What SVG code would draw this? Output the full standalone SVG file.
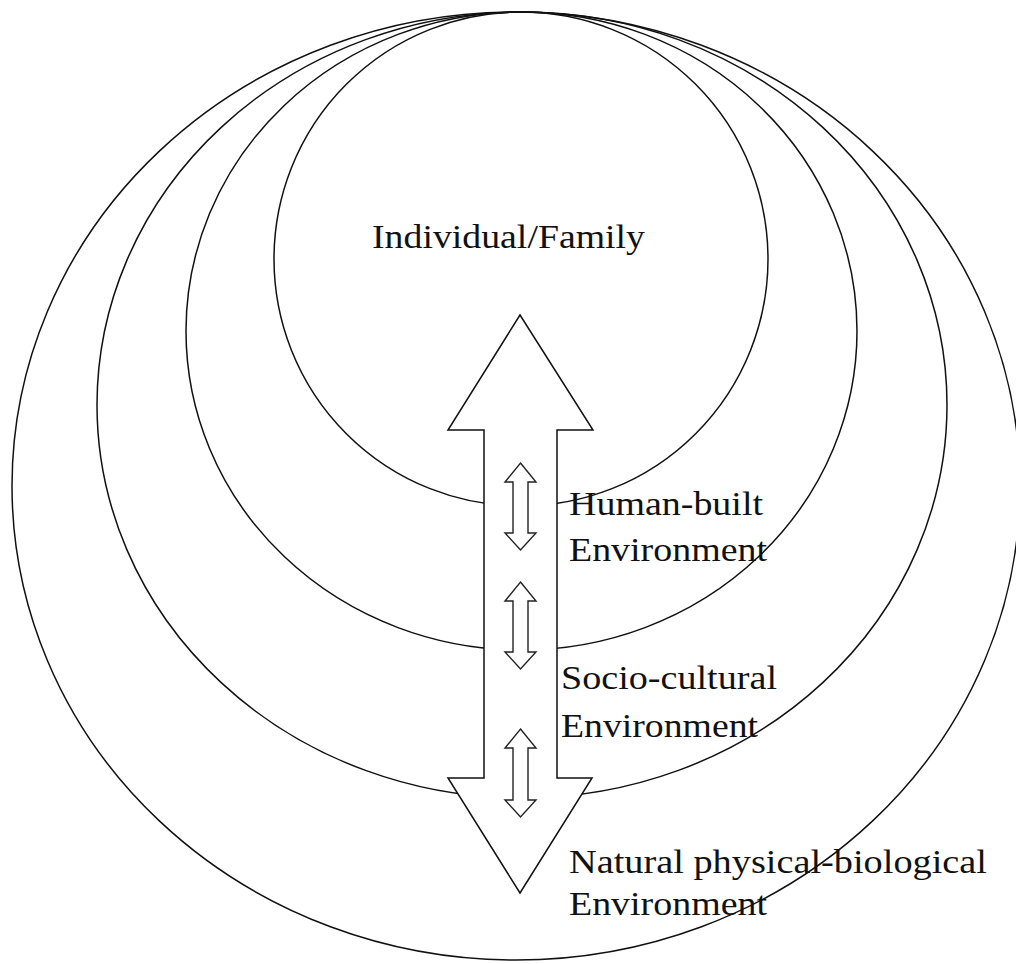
<svg xmlns="http://www.w3.org/2000/svg" width="1016" height="964" viewBox="0 0 1016 964">
  <style>
    .ring { fill: none; stroke: #111; stroke-width: 1.5; }
    .big { fill: #fff; stroke: #111; stroke-width: 1.5; stroke-linejoin: miter; }
    .small { fill: #fff; stroke: #222; stroke-width: 1.4; }
    .lbl { font-family: "Liberation Serif", "Times New Roman", serif; font-size: 34px; fill: #111; }
  </style>
  <rect x="0" y="0" width="1016" height="964" fill="#fff"/>
  <g id="natural">
    <ellipse class="ring" cx="516" cy="486" rx="504" ry="474"/>
  </g>
  <g id="sociocultural">
    <ellipse class="ring" cx="522" cy="405" rx="425" ry="393"/>
  </g>
  <g id="humanbuilt">
    <ellipse class="ring" cx="521.5" cy="331" rx="335.5" ry="319"/>
  </g>
  <g id="individual">
    <ellipse class="ring" cx="521" cy="259" rx="247" ry="247"/>
    <text class="lbl" x="372" y="248" textLength="273" lengthAdjust="spacingAndGlyphs">Individual/Family</text>
  </g>
  <g id="connectors">
    <polygon class="big" points="520,315 593,430 557,430 557,778 592,778 520,893 448,778 484,778 484,430 448,430"/>
    <polygon class="small" points="520.5,463 536,482 528,482 528,533 536,533 520.5,550 505,533 513,533 513,482 505,482"/>
    <polygon class="small" points="520.5,582 536,601 528,601 528,652 536,652 520.5,669 505,652 513,652 513,601 505,601"/>
    <polygon class="small" points="520.5,729 536,748 528,748 528,800 536,800 520.5,817 505,800 513,800 513,748 505,748"/>
  </g>
  <g id="label-humanbuilt">
    <text class="lbl" x="569" y="515" textLength="194" lengthAdjust="spacingAndGlyphs">Human-built</text>
    <text class="lbl" x="569" y="561" textLength="198" lengthAdjust="spacingAndGlyphs">Environment</text>
  </g>
  <g id="label-sociocultural">
    <text class="lbl" x="561" y="689" textLength="216" lengthAdjust="spacingAndGlyphs">Socio-cultural</text>
    <text class="lbl" x="561" y="737" textLength="197" lengthAdjust="spacingAndGlyphs">Environment</text>
  </g>
  <g id="label-natural">
    <text class="lbl" x="569" y="873" textLength="418" lengthAdjust="spacingAndGlyphs">Natural physical-biological</text>
    <text class="lbl" x="569" y="915" textLength="198" lengthAdjust="spacingAndGlyphs">Environment</text>
  </g>
</svg>
